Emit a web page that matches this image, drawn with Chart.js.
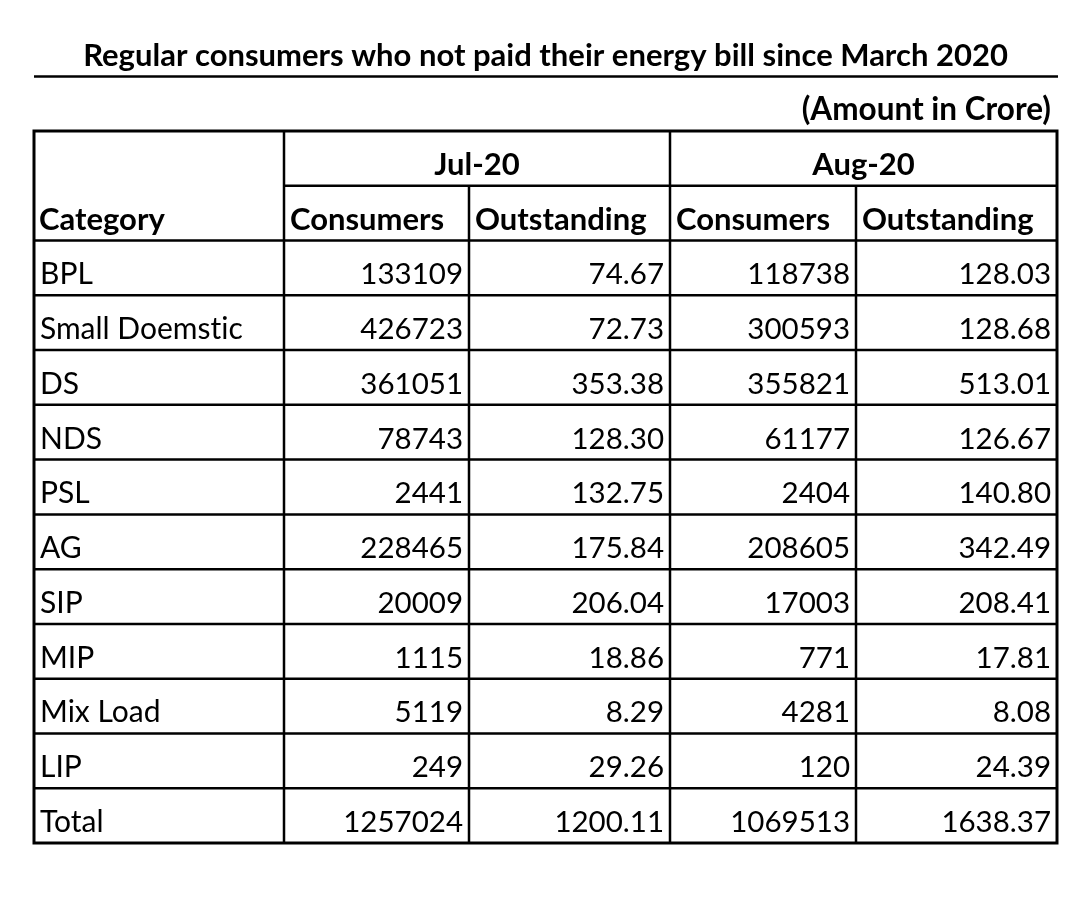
<!DOCTYPE html>
<html>
<head>
<meta charset="utf-8">
<script src="https://cdn.jsdelivr.net/npm/chart.js@4"></script>
<style>
  html, body { margin: 0; padding: 0; background: #fff; }
  canvas { display: block; }
</style>
</head>
<body>
<canvas id="table" width="1080" height="909"></canvas>
<script>
'use strict';

// table data
const categories = ['BPL', 'Small Doemstic', 'DS', 'NDS', 'PSL', 'AG', 'SIP', 'MIP', 'Mix Load', 'LIP', 'Total'];
const julConsumers = [133109, 426723, 361051, 78743, 2441, 228465, 20009, 1115, 5119, 249, 1257024];
const julOutstanding = [74.67, 72.73, 353.38, 128.30, 132.75, 175.84, 206.04, 18.86, 8.29, 29.26, 1200.11];
const augConsumers = [118738, 300593, 355821, 61177, 2404, 208605, 17003, 771, 4281, 120, 1069513];
const augOutstanding = [128.03, 128.68, 513.01, 126.67, 140.80, 342.49, 208.41, 17.81, 8.08, 24.39, 1638.37];
const months = ['Jul-20', 'Aug-20'];
const columnHeads = ['Consumers', 'Outstanding', 'Consumers', 'Outstanding'];
const firstHead = 'Category';
const titleText = 'Regular consumers who not paid their energy bill since March 2020';
const unitNote = '(Amount in Crore)';

// layout: column edges in table units (x scale runs 0..1023)
const colEdges = [0, 250, 435, 636, 822, 1023];
const rowKeys = ['head1', 'head2'].concat(categories);
const FONT = 'Lato, "Open Sans", sans-serif';

function fmt(v, k) {
  return (k % 2 === 1) ? v.toFixed(2) : String(v);
}

var series = [julConsumers, julOutstanding, augConsumers, augOutstanding];

var datasets = series.map(function(arr, k) {
  return {
    label: columnHeads[k],
    data: arr.map(function(v, i) {
      return { x: colEdges[k + 2], y: categories[i], v: v };
    }),
    pointRadius: 0,
    pointHoverRadius: 0
  };
});

const tablePlugin = {
  id: 'tableDraw',
  afterDraw: function(chart) {
    var ctx = chart.ctx;
    var a = chart.chartArea;
    var x = chart.scales.x;
    var y = chart.scales.y;
    var rowH = y.getPixelForValue(1) - y.getPixelForValue(0);
    var px = function(v) { return x.getPixelForValue(v); };
    var rowTop = function(i) { return y.getPixelForValue(i) - rowH / 2; };
    var pad = 11;

    ctx.save();
    ctx.fillStyle = '#000';
    ctx.strokeStyle = '#000';
    if ('textRendering' in ctx) ctx.textRendering = 'optimizeSpeed'; // no "ti" ligature

    // title + underline
    ctx.font = 'bold 31px ' + FONT;
    ctx.textAlign = 'center';
    ctx.textBaseline = 'alphabetic';
    ctx.fillText(titleText, (a.left + a.right) / 2, 66);
    ctx.lineWidth = 2.5;
    ctx.beginPath();
    ctx.moveTo(a.left, 76.5);
    ctx.lineTo(a.right + 1, 76.5);
    ctx.stroke();

    ctx.font = 'bold 31.5px ' + FONT;
    ctx.textAlign = 'right';
    ctx.fillText(unitNote, a.right - 6, 120);

    // grid lines
    ctx.lineWidth = 2.5;
    ctx.beginPath();
    for (var i = 1; i < rowKeys.length; i++) {
      var yy = rowTop(i);
      ctx.moveTo(i === 1 ? px(colEdges[1]) : a.left, yy);
      ctx.lineTo(a.right, yy);
    }
    for (var c = 1; c < colEdges.length - 1; c++) {
      var top = (c % 2 === 1) ? a.top : rowTop(1);
      ctx.moveTo(px(colEdges[c]), top);
      ctx.lineTo(px(colEdges[c]), a.bottom);
    }
    ctx.stroke();
    ctx.lineWidth = 3;
    ctx.strokeRect(a.left, a.top, a.right - a.left, a.bottom - a.top);

    // header texts
    ctx.font = 'bold 31px ' + FONT;
    ctx.textAlign = 'center';
    months.forEach(function(m, k) {
      var cx = (px(colEdges[1 + 2 * k]) + px(colEdges[3 + 2 * k])) / 2;
      ctx.fillText(m, cx, rowTop(1) - pad);
    });
    ctx.textAlign = 'left';
    ctx.fillText(firstHead, a.left + 5, rowTop(2) - pad);
    columnHeads.forEach(function(h, k) {
      ctx.fillText(h, px(colEdges[k + 1]) + 6, rowTop(2) - pad);
    });

    // category labels
    ctx.font = '30px ' + FONT;
    categories.forEach(function(cat, i) {
      ctx.fillText(cat, a.left + 6, rowTop(i + 3) - pad);
    });

    // values, placed by the dataset elements
    ctx.font = '29.5px ' + FONT;
    ctx.textAlign = 'right';
    chart.data.datasets.forEach(function(ds, k) {
      var meta = chart.getDatasetMeta(k);
      meta.data.forEach(function(el, i) {
        ctx.fillText(fmt(ds.data[i].v, k), el.x - 6, el.y + rowH / 2 - pad);
      });
    });
    ctx.restore();
  }
};

new Chart(document.getElementById('table').getContext('2d'), {
  type: 'scatter',
  data: { datasets: datasets },
  options: {
    responsive: false,
    animation: false,
    events: [],
    layout: { padding: { left: 34, right: 23, top: 131, bottom: 66 } },
    plugins: {
      legend: { display: false },
      tooltip: { enabled: false },
      title: { display: false }
    },
    scales: {
      x: { type: 'linear', min: 0, max: 1023, display: false },
      y: { type: 'category', labels: rowKeys, offset: true, display: false }
    }
  },
  plugins: [tablePlugin]
});
</script>
</body>
</html>
